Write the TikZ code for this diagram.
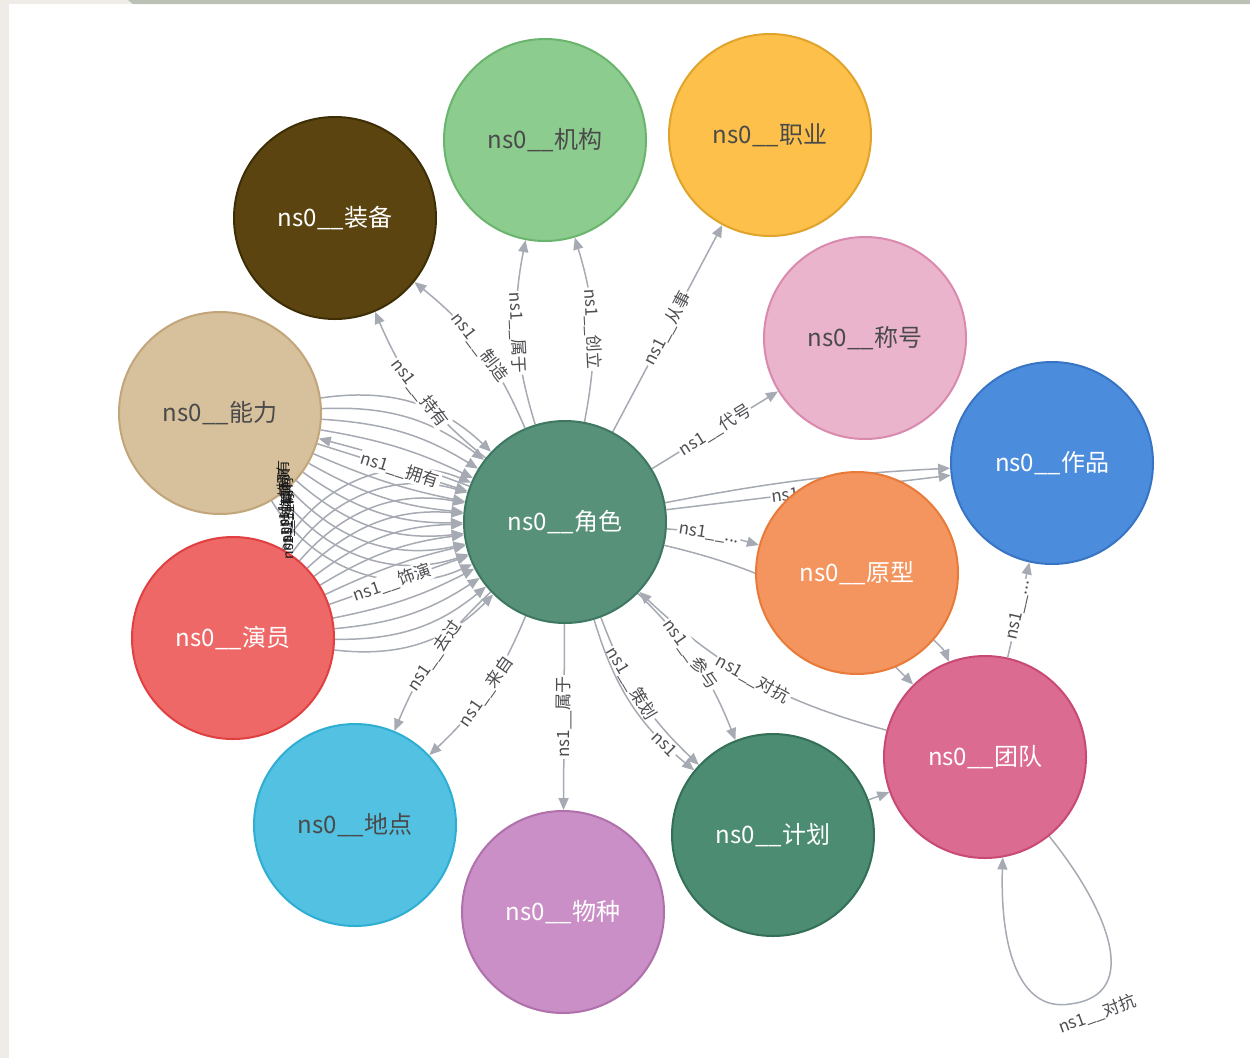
\documentclass[tikz,border=0pt]{standalone}
\usepackage{fontspec}
\newfontfamily\cjk{Noto Sans CJK SC}
\usetikzlibrary{arrows.meta,backgrounds}

\definecolor{framebeige}{HTML}{EFECE7}
\definecolor{framegreen}{HTML}{BCC1B5}
\definecolor{edgegray}{HTML}{A6AAB3}
\definecolor{labgray}{HTML}{4E4E52}
\definecolor{darktext}{HTML}{4A4A4A}

\definecolor{jsF}{HTML}{57917A}\definecolor{jsD}{HTML}{3E7862}
\definecolor{zbF}{HTML}{5B4410}\definecolor{zbD}{HTML}{3E2E06}
\definecolor{jgF}{HTML}{8DCC8F}\definecolor{jgD}{HTML}{6AB56D}
\definecolor{zyF}{HTML}{FDC04A}\definecolor{zyD}{HTML}{E0A42C}
\definecolor{chF}{HTML}{EBB4CD}\definecolor{chD}{HTML}{D98AAE}
\definecolor{nlF}{HTML}{D7C09C}\definecolor{nlD}{HTML}{C2A57A}
\definecolor{zpF}{HTML}{4B8DDC}\definecolor{zpD}{HTML}{3874C4}
\definecolor{yxF}{HTML}{F4945E}\definecolor{yxD}{HTML}{E87A3A}
\definecolor{yyF}{HTML}{EE6868}\definecolor{yyD}{HTML}{E04040}
\definecolor{tdF}{HTML}{DC6B91}\definecolor{tdD}{HTML}{C84A74}
\definecolor{ddF}{HTML}{52C1E2}\definecolor{ddD}{HTML}{2EAED3}
\definecolor{wzF}{HTML}{CA8FC6}\definecolor{wzD}{HTML}{B070AC}
\definecolor{jhF}{HTML}{4B8C72}\definecolor{jhD}{HTML}{346F58}

\begin{document}
\begin{tikzpicture}[x=1pt,y=-1pt,
  ent/.style={circle, minimum size=202pt, inner sep=0pt, line width=2pt,
    font=\cjk\fontsize{24}{28}\selectfont},
  ent light/.style={ent, text=darktext},
  ent dark/.style={ent, text=white},
  rel/.style={draw=edgegray, line width=1.5pt, -{Triangle[length=12pt,width=10pt]}},
  lab/.style={fill=white, inner sep=1.5pt, sloped, text=labgray,
    font=\cjk\fontsize{17}{19}\selectfont},
  mess/.style={rotate=90, text=black!90, inner sep=0pt,
    font=\cjk\fontsize{14}{15}\selectfont},
]
\useasboundingbox (0,0) rectangle (1250,1058);

% entities
\node[ent dark,  fill=jsF, draw=jsD] (js) at (565,522) {ns0\_\_角色};
\node[ent dark,  fill=zbF, draw=zbD] (zb) at (335,218) {ns0\_\_装备};
\node[ent light, fill=jgF, draw=jgD] (jg) at (545,140) {ns0\_\_机构};
\node[ent light, fill=zyF, draw=zyD] (zy) at (770,135) {ns0\_\_职业};
\node[ent light, fill=chF, draw=chD] (ch) at (865,338) {ns0\_\_称号};
\node[ent light, fill=nlF, draw=nlD] (nl) at (220,413) {ns0\_\_能力};
\node[ent dark,  fill=zpF, draw=zpD] (zp) at (1052,463) {ns0\_\_作品};
\node[ent dark,  fill=yxF, draw=yxD] (yx) at (857,573) {ns0\_\_原型};
\node[ent dark,  fill=yyF, draw=yyD] (yy) at (233,638) {ns0\_\_演员};
\node[ent dark,  fill=tdF, draw=tdD] (td) at (985,757) {ns0\_\_团队};
\node[ent light, fill=ddF, draw=ddD] (dd) at (355,825) {ns0\_\_地点};
\node[ent dark,  fill=wzF, draw=wzD] (wz) at (563,912) {ns0\_\_物种};
\node[ent dark,  fill=jhF, draw=jhD] (jh) at (773,835) {ns0\_\_计划};

\begin{pgfonlayer}{background}
  % page and frame
  \fill[white] (0,0) rectangle (1250,1058);
  \fill[framebeige] (0,0) rectangle (9,1058);
  \fill[framebeige] (0,0) rectangle (136,4);
  \fill[framegreen] (128,0) -- (1250,0) -- (1250,4) -- (133,4) -- cycle;

  % dense bundle between 能力 / 演员 and 角色
  \foreach \b in {-26,-20,-14,-8,6,12,18,24,30,36,42}
    \draw[rel] (nl) to[bend right=\b] (js);
  \foreach \b in {-26,-20,-14,-8,6,12,18,24,30,36,42}
    \draw[rel] (yy) to[bend left=\b] (js);
  \draw[rel] (js) to[bend right=3] (nl);
  \draw[rel] (nl) to node[lab, pos=0.55] {ns1\_\_拥有} (js);
  \draw[rel] (yy) to node[lab, pos=0.45] {ns1\_\_饰演} (js);

  % 角色 to the upper nodes
  \draw[rel] (js) to[bend left=14]  node[lab] {ns1\_\_持有} (zb);
  \draw[rel] (js) to[bend right=14] node[lab] {ns1\_\_制造} (zb);
  \draw[rel] (js) to[bend left=14]  node[lab] {ns1\_\_属于} (jg);
  \draw[rel] (js) to[bend right=14] node[lab] {ns1\_\_创立} (jg);
  \draw[rel] (js) -- node[lab] {ns1\_\_从事} (zy);
  \draw[rel] (js) -- node[lab] {ns1\_\_代号} (ch);

  % 角色 to the right side
  \draw[rel] (js) to[bend left=4] (zp);
  \draw[rel] (js) -- node[lab, pos=0.42] {ns1} (zp);
  \draw[rel] (js) to[bend left=6] node[lab, pos=0.45] {ns1\_\_...} (yx);
  \draw[rel] (js) to[bend left=16] (td);
  \draw[rel] (yx) to[bend left=14] (td);
  \draw[rel] (td) -- node[lab] {ns1\_\_...} (zp);
  \draw[rel] (td) to[bend left=14] node[lab, pos=0.5] {ns1\_\_对抗} (js);
  \draw[rel] (jh) -- (td);
  \draw[rel] (td.-51) .. controls (1105,905) and (1145,995) .. (1070,1004)
     .. controls (1020,1012) and (1000,950) .. (td.-80);

  % 角色 to the lower nodes
  \draw[rel] (js) to[bend left=12]  node[lab, pos=0.45] {ns1\_\_参与} (jh);
  \draw[rel] (js) to[bend right=13] node[lab, pos=0.4] {ns1\_\_策划} (jh);
  \draw[rel] (js) to[bend right=17] node[lab, pos=0.8] {ns1} (jh);
  \draw[rel] (js) to[bend right=12] node[lab] {ns1\_\_去过} (dd);
  \draw[rel] (js) to[bend left=12]  node[lab] {ns1\_\_来自} (dd);
  \draw[rel] (js) -- node[lab] {ns1\_\_属于} (wz);
\end{pgfonlayer}

% crowded labels stacked where the bundle crosses
\node[mess] (m1) at (284,494) {ns1\_\_拥有};
\node[mess] (m2) at (285,502) {ns1\_\_饰演};
\node[mess] (m3) at (288,510) {ns1\_\_拥有};
\node[mess] (m4) at (287,518) {ns1\_\_饰演};
\node[mess] (m5) at (289,526) {ns1\_\_拥有};

% label of the 团队 loop
\node[text=labgray, rotate=20, font=\cjk\fontsize{17}{19}\selectfont] (lp) at (1097,1014) {ns1\_\_对抗};
\end{tikzpicture}
\end{document}
